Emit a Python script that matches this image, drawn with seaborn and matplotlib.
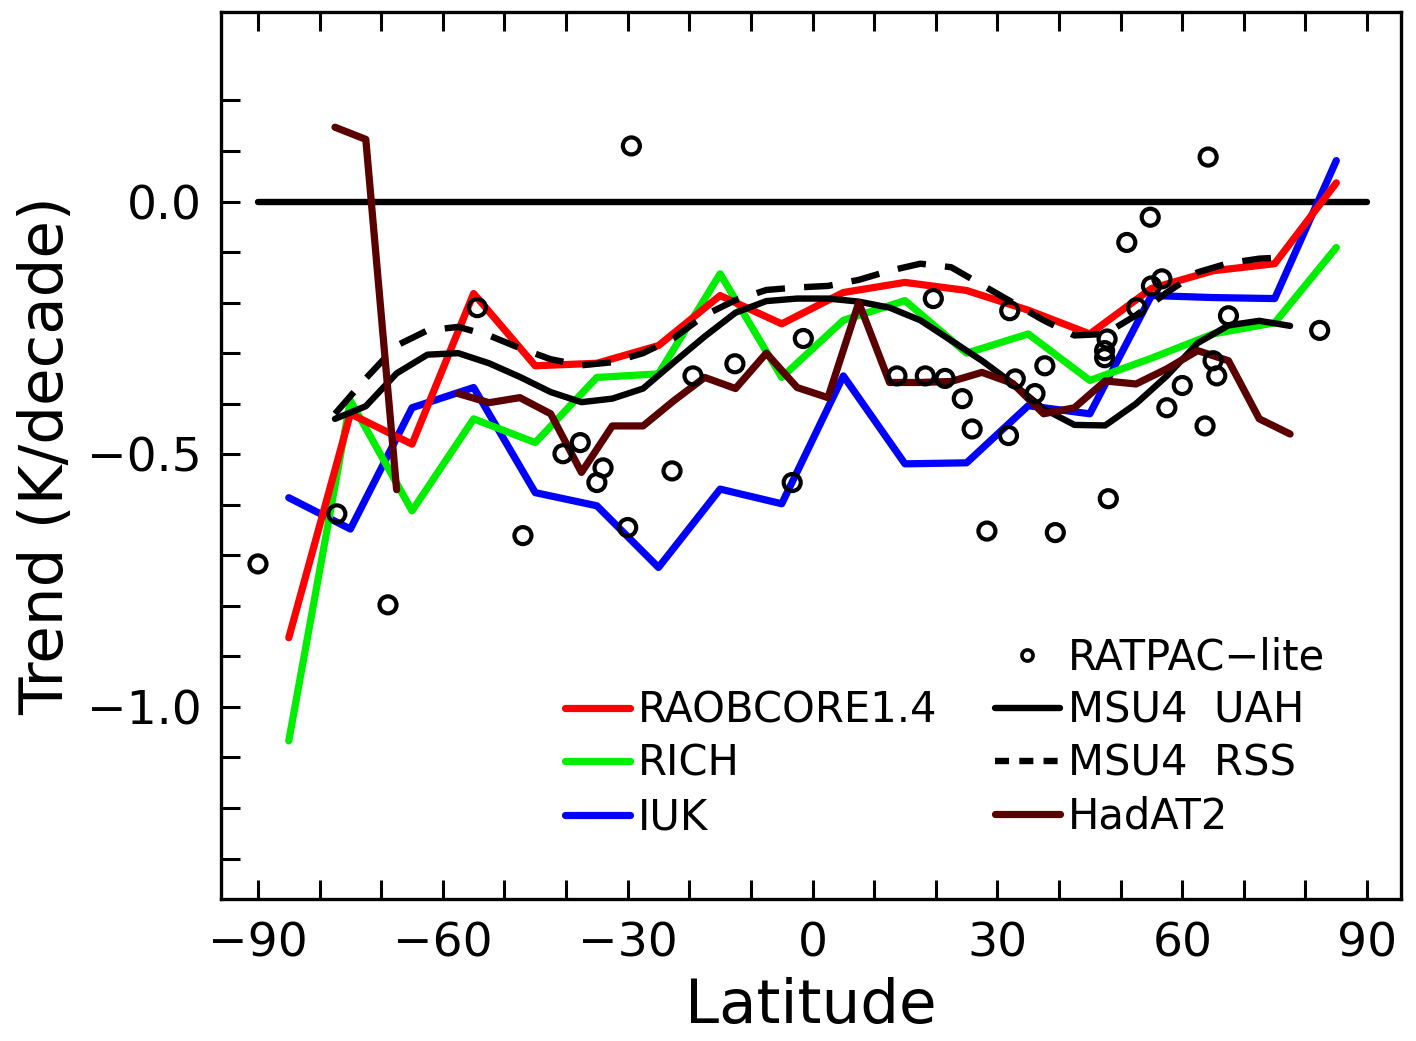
import numpy as np
import pandas as pd
import matplotlib
matplotlib.use("Agg")
import matplotlib.pyplot as plt
from matplotlib.lines import Line2D
from matplotlib.ticker import FixedLocator
import seaborn as sns

# ---- zonal trend data (K/decade) ----
lat_10deg = [-85, -75, -65, -55, -45, -35, -25, -15, -5, 5, 15, 25, 35, 45, 55, 65, 75, 85]
raobcore = [-0.863, -0.42, -0.48, -0.182, -0.325, -0.32, -0.285, -0.186, -0.242, -0.18,
            -0.16, -0.176, -0.215, -0.262, -0.172, -0.137, -0.123, 0.037]
rich = [-1.067, -0.394, -0.612, -0.43, -0.477, -0.348, -0.341, -0.143, -0.348, -0.235,
        -0.196, -0.30, -0.262, -0.354, -0.31, -0.262, -0.24, -0.091]
iuk = [-0.586, -0.648, -0.408, -0.368, -0.576, -0.602, -0.724, -0.569, -0.598, -0.345,
       -0.519, -0.517, -0.404, -0.42, -0.186, -0.19, -0.192, 0.081]

lat_5deg = [-77.5, -72.5, -67.5, -62.5, -57.5, -52.5, -47.5, -42.5, -37.5, -32.5, -27.5,
            -22.5, -17.5, -12.5, -7.5, -2.5, 2.5, 7.5, 12.5, 17.5, 22.5, 27.5, 32.5,
            37.5, 42.5, 47.5, 52.5, 57.5, 62.5, 67.5, 72.5, 77.5]
msu4_uah = [-0.43, -0.405, -0.34, -0.303, -0.30, -0.32, -0.347, -0.377, -0.397, -0.39,
            -0.37, -0.318, -0.267, -0.22, -0.197, -0.192, -0.192, -0.198, -0.21, -0.235,
            -0.275, -0.315, -0.36, -0.41, -0.442, -0.443, -0.40, -0.345, -0.28, -0.245,
            -0.236, -0.246]
msu4_rss = [-0.42, -0.35, -0.285, -0.255, -0.248, -0.265, -0.29, -0.312, -0.324, -0.318,
            -0.30, -0.27, -0.225, -0.195, -0.175, -0.17, -0.167, -0.155, -0.137, -0.123,
            -0.13, -0.165, -0.20, -0.235, -0.265, -0.262, -0.225, -0.18, -0.14, -0.122,
            -0.113, -0.11]
hadat2 = [0.147, 0.123, -0.57, np.nan, -0.38, -0.398, -0.388, -0.42, -0.536, -0.444,
          -0.444, -0.394, -0.348, -0.37, -0.30, -0.368, -0.388, -0.20, -0.358, -0.358,
          -0.356, -0.338, -0.36, -0.42, -0.408, -0.355, -0.361, -0.331, -0.295, -0.315,
          -0.43, -0.46]

# RATPAC-lite individual stations
ratpac_lat = [-90, -77.2, -68.9, -54.4, -47, -40.5, -37.7, -35, -34, -29.4, -30, -22.8,
              -19.4, -12.6, -3.3, -1.5, 13.7, 18.3, 19.6, 21.5, 24.3, 25.9, 28.3, 31.8,
              32, 32.9, 36.1, 37.7, 39.4, 47.4, 47.4, 47.8, 48, 51, 52.6, 54.8, 55,
              56.7, 57.5, 60, 63.7, 64.2, 65, 65.6, 67.5, 82.3]
ratpac_trend = [-0.717, -0.618, -0.798, -0.21, -0.661, -0.499, -0.477, -0.556, -0.527,
                0.11, -0.645, -0.533, -0.345, -0.321, -0.556, -0.271, -0.345, -0.345,
                -0.192, -0.35, -0.39, -0.45, -0.652, -0.463, -0.216, -0.351, -0.38,
                -0.325, -0.655, -0.295, -0.309, -0.272, -0.588, -0.081, -0.21, -0.031,
                -0.167, -0.153, -0.408, -0.364, -0.444, 0.088, -0.315, -0.345, -0.226,
                -0.255]

x_ticks = [-90, -60, -30, 0, 30, 60, 90]
y_ticks = [-1.0, -0.5, 0.0]
y_tick_labels = ["\u22121.0", "\u22120.5", "0.0"]

# ---- styling ----
sns.set_theme(style="white")
plt.rcParams["font.family"] = ["DejaVu Sans"]
plt.rcParams["text.color"] = "black"
plt.rcParams["axes.labelcolor"] = "black"

RED, GREEN, BLUE, MAROON = "#ff0000", "#00ee00", "#0000ff", "#5a0000"
LW = 5.2

fig = plt.figure(figsize=(14.16, 10.41), dpi=100)
ax = fig.add_axes([221 / 1416, 1 - 899 / 1041, (1401 - 221) / 1416, (899 - 12) / 1041])

# zero reference line
ax.plot([-90, 90], [0, 0], color="black", lw=4.6, solid_capstyle="round", zorder=2)

# radiosonde datasets on 10-degree bands
for vals, col in [(iuk, BLUE), (rich, GREEN), (raobcore, RED)]:
    df = pd.DataFrame({"lat": lat_10deg, "trend": vals})
    sns.lineplot(data=df, x="lat", y="trend", color=col, lw=LW, sort=False,
                 estimator=None, ax=ax, zorder=3, solid_capstyle="round")

# MSU4 satellite records
df_uah = pd.DataFrame({"lat": lat_5deg, "trend": msu4_uah})
sns.lineplot(data=df_uah, x="lat", y="trend", color="black", lw=4.6, sort=False,
             estimator=None, ax=ax, zorder=3, solid_capstyle="round")
df_rss = pd.DataFrame({"lat": lat_5deg, "trend": msu4_rss})
sns.lineplot(data=df_rss, x="lat", y="trend", color="black", lw=4.6, sort=False,
             estimator=None, ax=ax, zorder=3, dashes=False, linestyle=(0, (4.5, 3)))

# HadAT2, broken where a band has no data
had = np.array(hadat2, dtype=float)
df_had = pd.DataFrame({"lat": lat_5deg, "trend": had,
                       "seg": np.cumsum(np.isnan(had))})
df_had = df_had.dropna()
sns.lineplot(data=df_had, x="lat", y="trend", units="seg", color=MAROON, lw=LW,
             sort=False, estimator=None, ax=ax, zorder=3, solid_capstyle="round")

# station trends
df_rat = pd.DataFrame({"lat": ratpac_lat, "trend": ratpac_trend})
sns.scatterplot(data=df_rat, x="lat", y="trend", marker="o", s=150,
                facecolor="none", edgecolor="black", linewidth=3.0, ax=ax, zorder=4)

# ---- axes ----
ax.set_xlim(-96, 95.5)
ax.set_ylim(-1.38, 0.375)
ax.set_xticks(x_ticks)
ax.set_xticklabels([str(v).replace("-", "\u2212") for v in x_ticks])
ax.xaxis.set_minor_locator(FixedLocator([v for v in range(-80, 90, 10) if v % 30 != 0]))
ax.set_yticks(y_ticks)
ax.set_yticklabels(y_tick_labels)
ax.yaxis.set_minor_locator(FixedLocator([round(v, 1) for v in np.arange(-1.3, 0.25, 0.1)
                                         if abs(round(v, 1) * 2 - round(round(v, 1) * 2)) > 1e-6]))
ax.tick_params(axis="both", which="both", direction="in", length=14, width=2.2,
               top=True, bottom=True, left=True, right=False, colors="black",
               labelcolor="black")
ax.tick_params(axis="x", which="major", labelsize=34, pad=16)
ax.tick_params(axis="y", which="major", labelsize=34, pad=14)
for sp in ax.spines.values():
    sp.set_color("black")
    sp.set_linewidth(2.4)
ax.set_xlabel("Latitude", fontsize=44, labelpad=8, color="black")
ax.set_ylabel("Trend (K/decade)", fontsize=44, color="black")
ax.yaxis.set_label_coords(-0.123, 0.5)
ax.grid(False)

# ---- legends ----
left_handles = [Line2D([], [], color=RED, lw=LW),
                Line2D([], [], color=GREEN, lw=LW),
                Line2D([], [], color=BLUE, lw=LW)]
leg1 = ax.legend(left_handles, ["RAOBCORE1.4", "RICH", "IUK"], loc="center left",
                 bbox_to_anchor=(565 / 1416, 1 - 764 / 1041), bbox_transform=fig.transFigure,
                 frameon=False, fontsize=30, handlelength=1.55, handletextpad=0.2,
                 labelspacing=0.27, borderpad=0, borderaxespad=0, labelcolor="black")
ax.add_artist(leg1)
right_handles = [Line2D([], [], color="black", lw=0, marker="o", markersize=8,
                        markerfacecolor="none", markeredgewidth=2.6),
                 Line2D([], [], color="black", lw=4.6),
                 Line2D([], [], color="black", lw=4.6, linestyle=(0, (2.2, 1.6))),
                 Line2D([], [], color=MAROON, lw=LW)]
ax.legend(right_handles, ["RATPAC\u2212lite", "MSU4  UAH", "MSU4  RSS", "HadAT2"],
          loc="center left", bbox_to_anchor=(995 / 1416, 1 - 737 / 1041),
          bbox_transform=fig.transFigure, frameon=False, fontsize=30,
          handlelength=1.55, handletextpad=0.2, labelspacing=0.27, borderpad=0,
          borderaxespad=0, labelcolor="black")

fig.savefig("out.png", dpi=100, facecolor="white")
